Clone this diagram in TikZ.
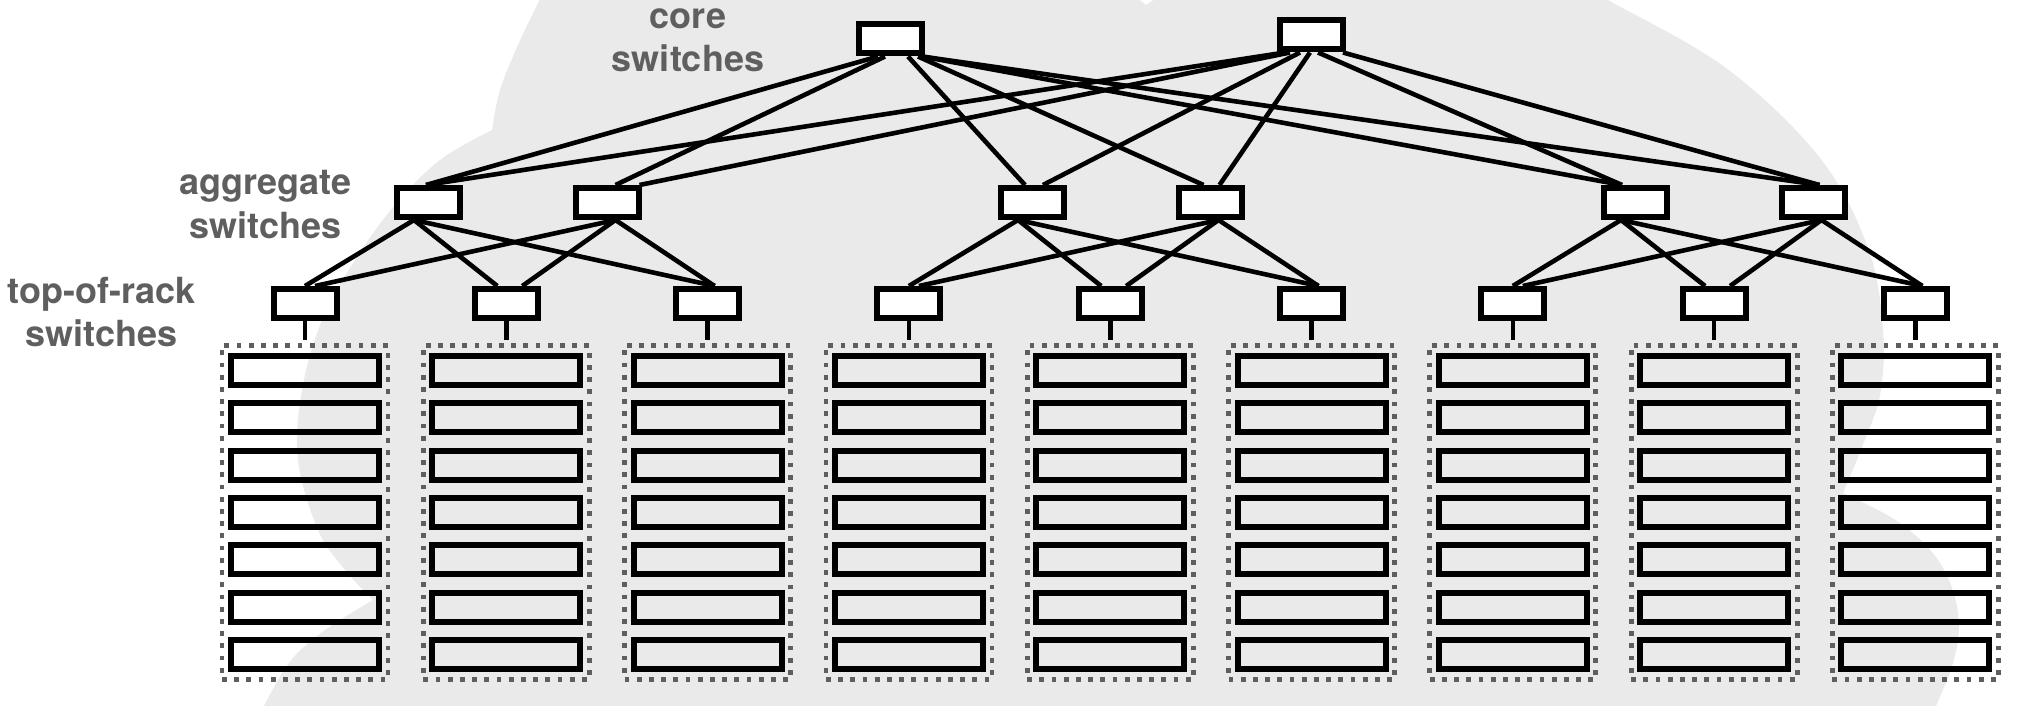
\documentclass[tikz,border=0pt]{standalone}
\usepackage{fontspec}
\setmainfont{TeX Gyre Heros}
\usetikzlibrary{calc}
\definecolor{cloudc}{HTML}{EAEAEA}
\definecolor{lblc}{HTML}{5F5F5F}
\definecolor{rackc}{HTML}{5E5E5E}
\pgfdeclarelayer{cloudlayer}
\pgfdeclarelayer{linklayer}
\pgfsetlayers{cloudlayer,linklayer,main}
\begin{document}
\begin{tikzpicture}[x=0.5pt,y=-0.5pt,
  swbox/.style={draw=black, fill=white, line width=3pt, minimum width=31.5pt, minimum height=14.5pt, inner sep=0pt},
  srv/.style={draw=black, line width=3pt, minimum width=74pt, minimum height=14.5pt, inner sep=0pt},
  rackbox/.style={draw=rackc, line width=2.4pt, dash pattern=on 2.4pt off 3.7pt, minimum width=83pt, minimum height=167pt, inner sep=0pt},
  link/.style={line width=2.3pt, draw=black},
  lbl/.style={text=lblc, font=\fontsize{18}{21.6}\selectfont\bfseries, inner sep=0pt, anchor=base}]

\useasboundingbox (0,0) rectangle (2042,706);

% background cloud
\begin{pgfonlayer}{cloudlayer}
\begin{scope}
\clip (0,0) rectangle (2042,706);
\fill[cloudc] (545,-30)
 -- plot[smooth,tension=0.6] coordinates {(542,-5) (518,45) (500,90) (492,130)}
 -- plot[smooth,tension=0.6] coordinates {(492,130) (440,160) (395,205) (355,260) (322,320) (302,390) (298,460) (318,530) (345,570) (373,600)}
 -- plot[smooth,tension=0.6] coordinates {(373,600) (321,633) (286,667) (252,730)}
 -- (252,740) -- (1925,740)
 -- plot[smooth,tension=0.6] coordinates {(1925,730) (1953,663) (1958,613) (1940,563) (1900,523) (1843,493)}
 -- plot[smooth,tension=0.6] coordinates {(1843,493) (1862,447) (1880,395) (1883,330) (1868,248) (1820,158) (1726,68) (1608,0) (1575,-20)}
 -- (1575,-30) -- (1162,-30) -- (1158,-3) -- (1146,5) -- (1136,-3) -- (1132,-30) -- cycle;
\end{scope}
\end{pgfonlayer}

% labels
\node[lbl] (corel1) at (688,28.6) {core};
\node[lbl] (corel2) at (688,71.6) {switches};
\node[lbl] (aggl1) at (265.7,195) {aggregate};
\node[lbl] (aggl2) at (265.7,238) {switches};
\node[lbl] (torl1) at (101.6,303.5) {top-of-rack};
\node[lbl] (torl2) at (101.6,346) {switches};

% core switches
\node[swbox] (c1) at (890,39) {};
\node[swbox] (c2) at (1311,35) {};

% aggregate switches
\foreach \n/\x in {1/428,2/607.5,3/1032,4/1210.5,5/1635,6/1813.5}
  \node[swbox] (a\n) at (\x,202.5) {};

% top-of-rack switches, racks and servers
\foreach \i in {1,...,9} {
  \pgfmathsetmacro\rx{305+201.3*(\i-1)}
  \node[swbox] (t\i) at (\rx,303.5) {};
  \node[rackbox] (r\i) at (\rx,512.5) {};
  \foreach \k in {1,...,7} {
    \pgfmathsetmacro\sy{370.5+47.33*(\k-1)}
    \node[srv] (s\i-\k) at (\rx,\sy) {};
  }
}

% connectors
\begin{pgfonlayer}{linklayer}
\foreach \a/\da/\b/\db in {c1/-12/a1/-2, c1/-5/a2/8, c1/18/a3/-7, c1/28/a4/-7, c1/32/a5/-13, c1/32/a6/6,
    c2/-26/a1/-2, c2/-21/a2/32, c2/-11/a3/11, c2/-1/a4/9, c2/7/a5/-13, c2/32/a6/6,
    a1/-14/t1/0, a1/-14/t2/-9, a1/-14/t3/7, a2/8/t1/10, a2/8/t2/16, a2/8/t3/7,
    a3/-14/t4/0, a3/-14/t5/-9, a3/-14/t6/7, a4/8/t4/10, a4/8/t5/16, a4/8/t6/7,
    a5/-14/t7/0, a5/-14/t8/-9, a5/-14/t9/7, a6/8/t7/10, a6/8/t8/16, a6/8/t9/7}
  \draw[link] ($(\a.south)+(\da,0)$) -- ($(\b.north)+(\db,0)$);
\foreach \i in {1,...,9}
  \draw[link] (t\i.south) -- ($(t\i.south)+(0,19)$);
\end{pgfonlayer}
\end{tikzpicture}
\end{document}
